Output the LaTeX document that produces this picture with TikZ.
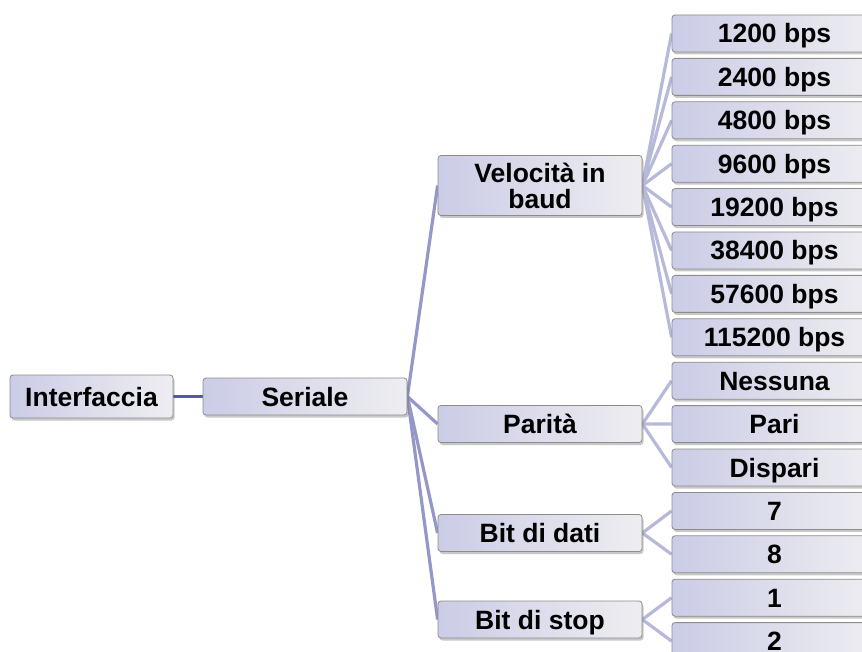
\documentclass[tikz,border=0pt]{standalone}
\usepackage{fontspec}
\setmainfont{Liberation Sans}
\usetikzlibrary{shadows,backgrounds}
\definecolor{boxL}{HTML}{CBCCE6}
\definecolor{boxR}{HTML}{EEEEF1}
\definecolor{boxB}{HTML}{8C8C8C}
\definecolor{linkA}{HTML}{5659A8}
\definecolor{linkB}{HTML}{9597C9}
\definecolor{linkC}{HTML}{B7B9DB}
\tikzset{
  box/.style={draw=boxB, line width=0.8pt, rounded corners=3pt, left color=boxL, right color=boxR,
    inner sep=0pt, minimum height=37pt, minimum width=204pt, align=center,
    font=\fontsize{26.5}{26}\selectfont\bfseries,
    drop shadow={shadow xshift=1.5pt, shadow yshift=-2.5pt, opacity=0.3, fill=black!70}},
  oneline/.style={box, text height=19pt, text depth=0pt},
  leaf/.style={oneline, minimum width=205pt},
  linkmain/.style={draw=linkA, line width=3.8pt},
  linkmid/.style={draw=linkB, line width=3.2pt},
  linklight/.style={draw=linkC, line width=3.2pt}
}
\begin{document}
\begin{tikzpicture}[x=1pt,y=-1pt]
\useasboundingbox (0,0) rectangle (862,652);
\clip (0,0) rectangle (862,652);
\node[oneline, minimum width=163pt, minimum height=43pt] (int) at (91.5,396.5) {Interfaccia};
\node[oneline] (ser) at (305,396.5) {Seriale};
\node[box, minimum height=60pt] (vel) at (540,185.5) {Velocità in\\baud};
\node[oneline] (par) at (540,424) {Parità};
\node[oneline] (dat) at (540,533) {Bit di dati};
\node[oneline] (stp) at (540,619.5) {Bit di stop};
\foreach \t [count=\i from 0] in {1200 bps,2400 bps,4800 bps,9600 bps,19200 bps,38400 bps,57600 bps,115200 bps,Nessuna,Pari,Dispari,7,8,1,2}{
  \node[leaf] (l\i) at (774.5,{33.5+43.4*\i}) {\t};
}
\begin{scope}[on background layer]
  \fill[white] (0,0) rectangle (862,652);
  \draw[linkmain] (int.east) -- (ser.west);
  \foreach \c in {vel,par,dat,stp}{\draw[linkmid] (ser.east) -- (\c.west);}
  \foreach \i in {0,...,7}{\draw[linklight] (vel.east) -- (l\i.west);}
  \foreach \i in {8,9,10}{\draw[linklight] (par.east) -- (l\i.west);}
  \foreach \i in {11,12}{\draw[linklight] (dat.east) -- (l\i.west);}
  \foreach \i in {13,14}{\draw[linklight] (stp.east) -- (l\i.west);}
\end{scope}
\end{tikzpicture}
\end{document}
